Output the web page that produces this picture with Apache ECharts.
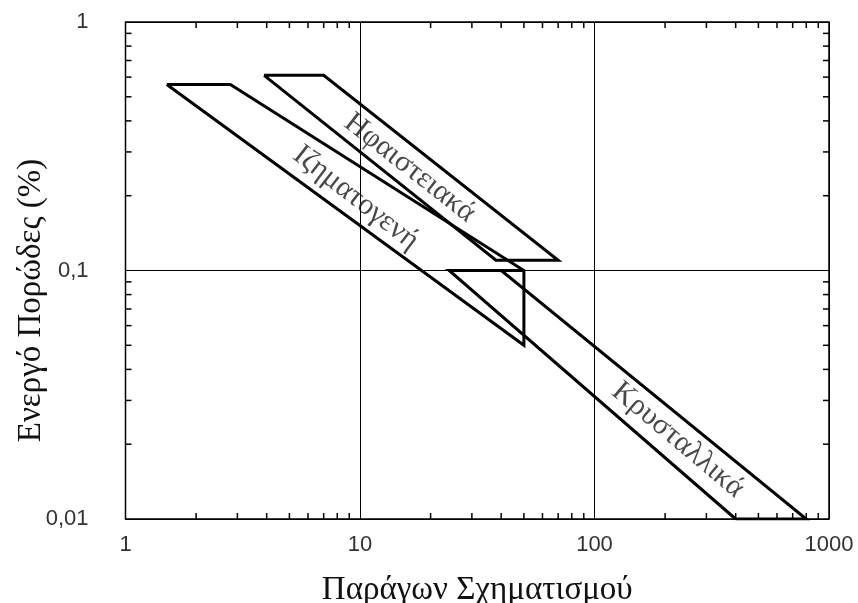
<!DOCTYPE html>
<html>
<head>
<meta charset="utf-8">
<script src="https://cdn.jsdelivr.net/npm/echarts@6/dist/echarts.min.js"></script>
<style>html,body{margin:0;padding:0;background:#fff}#c{width:858px;height:603px}</style>
</head>
<body>
<div id="c"></div>
<script>
// ---- data ----
const xTickLabels = ['1', '10', '100', '1000'];
const yTickLabels = ['0,01', '0,1', '1'];
const xMinorTicks = [2,3,4,5,6,7,8,9,20,30,40,50,60,70,80,90,200,300,400,500,600,700,800,900];
const yMinorTicks = [0.02,0.03,0.04,0.05,0.06,0.07,0.08,0.09,0.2,0.3,0.4,0.5,0.6,0.7,0.8,0.9];

const volcanicX = [3.9, 7, 70, 38, 3.9];
const volcanicY = [0.61, 0.61, 0.11, 0.11, 0.61];
const sedimentX = [1.5, 2.8, 50, 50, 1.5];
const sedimentY = [0.56, 0.56, 0.1, 0.05, 0.56];
const crystalX = [400, 24, 50, 40, 800, 400];
const crystalY = [0.01, 0.1, 0.1, 0.1, 0.01, 0.01];

const labelNames = ['Ηφαιστειακά', 'Ιζηματογενή', 'Κρυσταλλικά'];
const labelX = [16.3, 9.6, 227];
const labelY = [0.2585, 0.196, 0.0208];
const labelAngle = [-38, -38, -40];

const xName = 'Παράγων Σχηματισμού';
const yName = 'Ενεργό Πορώδες (%)';

function pairs(xs, ys) { return xs.map((x, i) => [x, ys[i]]); }

const chart = echarts.init(document.getElementById('c'), null, {renderer: 'canvas'});
const serif = '"Liberation Serif", "DejaVu Serif", serif';
const sans = '"Liberation Sans", Arial, sans-serif';

function polySeries(xs, ys) {
  return {
    type: 'line', data: pairs(xs, ys), symbol: 'none', silent: true,
    lineStyle: {color: '#000', width: 3, join: 'miter', cap: 'butt'},
    itemStyle: {color: '#000'}, z: 5, animation: false
  };
}

const option = {
  animation: false,
  backgroundColor: '#fff',
  grid: {left: 125.5, right: 29, top: 22, bottom: 84, show: true, borderColor: '#000', borderWidth: 1.5,
         backgroundColor: 'transparent', containLabel: false, outerBoundsMode: 'none'},
  xAxis: {
    type: 'log', logBase: 10, min: 1, max: 1000,
    name: xName, nameLocation: 'middle', nameGap: 55, nameMoveOverlap: false,
    nameTextStyle: {fontFamily: serif, fontSize: 33, color: '#111'},
    axisLine: {show: false},
    axisTick: {show: false},
    splitLine: {show: true, lineStyle: {color: '#000', width: 1}},
    axisLabel: {
      fontFamily: sans, fontSize: 22, color: '#333', margin: 15,
      formatter: v => xTickLabels[Math.round(Math.log10(v))]
    }
  },
  yAxis: {
    type: 'log', logBase: 10, min: 0.01, max: 1,
    name: yName, nameLocation: 'middle', nameGap: 78, nameRotate: 90, nameMoveOverlap: false,
    nameTextStyle: {fontFamily: serif, fontSize: 33, color: '#111', padding: [0, 60, 0, 0]},
    axisLine: {show: false},
    axisTick: {show: false},
    splitLine: {show: true, lineStyle: {color: '#000', width: 1}},
    axisLabel: {
      fontFamily: sans, fontSize: 22, color: '#333', margin: 37,
      formatter: v => yTickLabels[Math.round(Math.log10(v)) + 2]
    }
  },
  series: [
    {
      type: 'custom', silent: true, z: 3,
      data: xMinorTicks.map(v => [v, 0]),
      renderItem: function (params, api) {
        const v = api.value(0);
        const b = api.coord([v, 0.01]);
        const t = api.coord([v, 1]);
        const L = 6;
        return {type: 'group', children: [
          {type: 'line', shape: {x1: b[0], y1: b[1], x2: b[0], y2: b[1] - L}, style: {stroke: '#000', lineWidth: 1.5}},
          {type: 'line', shape: {x1: t[0], y1: t[1], x2: t[0], y2: t[1] + L}, style: {stroke: '#000', lineWidth: 1.5}}
        ]};
      }
    },
    {
      type: 'custom', silent: true, z: 3,
      data: yMinorTicks.map(v => [1, v]),
      renderItem: function (params, api) {
        const v = api.value(1);
        const l = api.coord([1, v]);
        const r = api.coord([1000, v]);
        const L = 6;
        return {type: 'group', children: [
          {type: 'line', shape: {x1: l[0], y1: l[1], x2: l[0] + L, y2: l[1]}, style: {stroke: '#000', lineWidth: 1.5}},
          {type: 'line', shape: {x1: r[0], y1: r[1], x2: r[0] - L, y2: r[1]}, style: {stroke: '#000', lineWidth: 1.5}}
        ]};
      }
    },
    polySeries(volcanicX, volcanicY),
    polySeries(sedimentX, sedimentY),
    polySeries(crystalX, crystalY),
    {
      type: 'scatter', silent: true, symbolSize: 0, z: 6,
      data: labelNames.map((n, i) => ({name: n, value: [labelX[i], labelY[i]],
        label: {rotate: labelAngle[i]}})),
      label: {
        show: true, position: 'inside', formatter: p => p.name,
        fontFamily: serif, fontSize: 30, color: '#1a1a1a'
      }
    }
  ]
};
chart.setOption(option);
</script>
</body>
</html>
